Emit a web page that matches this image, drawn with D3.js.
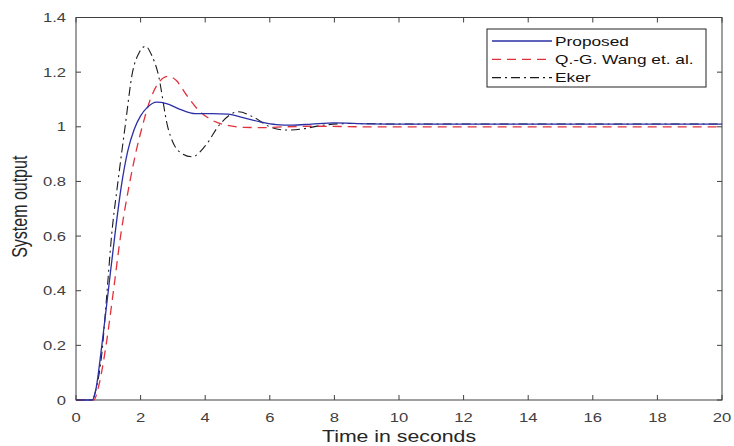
<!DOCTYPE html>
<html>
<head>
<meta charset="utf-8">
<script src="https://cdn.jsdelivr.net/npm/d3@7"></script>
<style>
    body { margin: 0; background: #fff; }
    svg { display: block; font-family: "Liberation Sans", Arial, sans-serif; }
    .tick-label { fill: #404040; font-size: 12.5px; }
    .axis-title { fill: #262626; font-size: 16px; }
    .legend-text { fill: #111; font-size: 13px; }
</style>
</head>
<body>
<svg id="chart" width="734" height="446"></svg>
<script>
'use strict';

// step responses
var proposedTime = [0, 0.5, 0.6, 0.8, 1.0, 1.2, 1.4, 1.6, 1.8, 2.0, 2.2, 2.5, 2.8, 3.2, 3.7, 4.2, 4.7, 5.2, 5.7, 6.2, 6.7, 7.3, 8, 9, 10, 12, 20];
var proposedValue = [0, 0, 0.03, 0.2, 0.4, 0.6, 0.78, 0.91, 0.99, 1.04, 1.07, 1.09, 1.085, 1.065, 1.048, 1.048, 1.046, 1.033, 1.018, 1.008, 1.006, 1.01, 1.014, 1.011, 1.01, 1.01, 1.01];

var wangTime = [0, 0.55, 0.7, 0.93, 1.16, 1.38, 1.67, 1.88, 2.05, 2.3, 2.55, 2.85, 3.1, 3.4, 3.8, 4.2, 4.7, 5.2, 5.8, 6.5, 7.5, 9, 20];
var wangValue = [0, 0, 0.05, 0.2, 0.4, 0.6, 0.8, 0.92, 1.0, 1.1, 1.16, 1.185, 1.17, 1.12, 1.06, 1.025, 1.005, 0.998, 0.997, 1.0, 1.002, 1.0, 1.0];

var ekerTime = [0, 0.5, 0.62, 0.8, 0.95, 1.1, 1.3, 1.52, 1.75, 1.95, 2.15, 2.35, 2.53, 2.84, 3.19, 3.6, 4.0, 4.46, 5.03, 5.5, 6.0, 6.5, 7.0, 7.6, 8.5, 10, 20];
var ekerValue = [0, 0, 0.04, 0.17, 0.38, 0.6, 0.8, 1.0, 1.2, 1.27, 1.295, 1.26, 1.2, 1.0, 0.91, 0.89, 0.93, 1.01, 1.055, 1.035, 1.0, 0.988, 0.992, 1.005, 1.012, 1.01, 1.01];

var seriesNames = ['Proposed', 'Q.-G. Wang et. al.', 'Eker'];
var xTicks = [0, 2, 4, 6, 8, 10, 12, 14, 16, 18, 20];
var yTicks = [0, 0.2, 0.4, 0.6, 0.8, 1, 1.2, 1.4];

function stepChart() {
    var svg = d3.select('#chart');
    var left = 76, right = 722, top = 17.5, bottom = 400;
    var TICK = 5;
    var STRETCH = 1.33; // the picture's text is wider than it is tall

    var x = d3.scaleLinear().domain([0, 20]).range([left, right]);
    var y = d3.scaleLinear().domain([0, 1.4]).range([bottom, top]);

    var series = [
        { name: seriesNames[0], t: proposedTime, v: proposedValue, color: '#2b2fa6', dash: null, width: 1.3 },
        { name: seriesNames[1], t: wangTime, v: wangValue, color: '#e0323c', dash: '9,6', width: 1.3 },
        { name: seriesNames[2], t: ekerTime, v: ekerValue, color: '#1a1a1a', dash: '9,4,2,4', width: 1.1 }
    ];

    function place(tx, ty) {
        return 'translate(' + tx + ',' + ty + ') scale(' + STRETCH + ',1)';
    }

    // box
    svg.append('rect').attr('x', left).attr('y', top)
        .attr('width', right - left).attr('height', bottom - top)
        .attr('fill', '#fff').attr('stroke', '#404040').attr('stroke-width', 1);

    // curves
    var line = d3.line()
        .x(function (d) { return x(d[0]); })
        .y(function (d) { return y(d[1]); })
        .curve(d3.curveMonotoneX);

    series.slice().reverse().forEach(function (s) {
        var pts = s.t.map(function (t, i) { return [t, s.v[i]]; });
        svg.append('path').datum(pts).attr('d', line)
            .attr('fill', 'none').attr('stroke', s.color)
            .attr('stroke-width', s.width)
            .attr('stroke-dasharray', s.dash);
    });

    // ticks inside, on all four sides
    var axes = svg.append('g');
    axes.selectAll('.xb').data(xTicks).enter().append('line')
        .attr('x1', x).attr('x2', x).attr('y1', bottom).attr('y2', bottom - TICK)
        .attr('stroke', '#404040');
    axes.selectAll('.xt').data(xTicks).enter().append('line')
        .attr('x1', x).attr('x2', x).attr('y1', top).attr('y2', top + TICK)
        .attr('stroke', '#404040');
    axes.selectAll('.yl').data(yTicks).enter().append('line')
        .attr('y1', y).attr('y2', y).attr('x1', left).attr('x2', left + TICK)
        .attr('stroke', '#404040');
    axes.selectAll('.yr').data(yTicks).enter().append('line')
        .attr('y1', y).attr('y2', y).attr('x1', right).attr('x2', right - TICK)
        .attr('stroke', '#404040');

    // tick labels
    svg.selectAll('.xl').data(xTicks).enter().append('text')
        .attr('class', 'tick-label').attr('text-anchor', 'middle')
        .attr('transform', function (d) { return place(x(d), bottom + 21.5); })
        .text(function (d) { return d; });
    svg.selectAll('.ylab').data(yTicks).enter().append('text')
        .attr('class', 'tick-label').attr('text-anchor', 'end')
        .attr('transform', function (d) { return place(left - 10, y(d) + 4.5); })
        .text(function (d) { return d3.format('~g')(d); });

    // axis titles
    svg.append('text').attr('class', 'axis-title').attr('text-anchor', 'middle')
        .attr('transform', place((left + right) / 2, 442)).text('Time in seconds');
    svg.append('text').attr('class', 'axis-title').attr('text-anchor', 'middle')
        .attr('transform', 'translate(27,' + ((top + bottom) / 2 - 2) + ') rotate(-90) scale(1,' + STRETCH + ')')
        .text('System output');

    // legend
    var lg = svg.append('g').attr('transform', 'translate(487,29)');
    lg.append('rect').attr('width', 219).attr('height', 58)
        .attr('fill', '#fff').attr('stroke', '#222').attr('stroke-width', 1);
    series.forEach(function (s, i) {
        var yy = 12 + i * 18.3;
        lg.append('line').attr('x1', 5).attr('x2', 65).attr('y1', yy).attr('y2', yy)
            .attr('stroke', s.color).attr('stroke-width', s.width)
            .attr('stroke-dasharray', s.dash);
        lg.append('text').attr('class', 'legend-text')
            .attr('transform', place(68, yy + 4.5)).text(s.name);
    });
}

stepChart();
</script>
</body>
</html>
